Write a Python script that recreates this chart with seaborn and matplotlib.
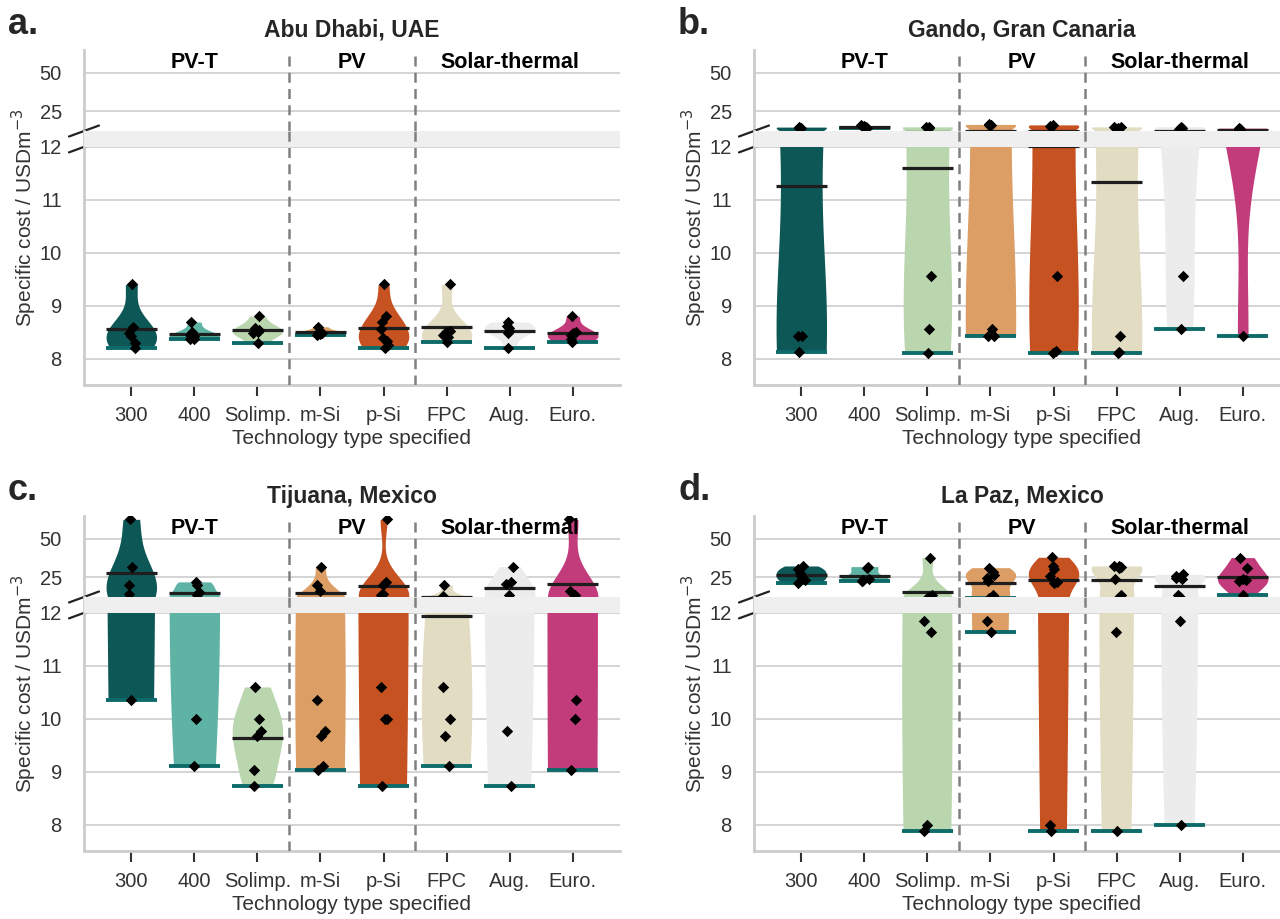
import numpy as np
import pandas as pd
import seaborn as sns
import matplotlib.pyplot as plt

sns.set_style("whitegrid")
sns.set_context("notebook")
plt.rcParams['font.family'] = ['Liberation Sans', 'DejaVu Sans']

# ---------------- data ----------------
techs = ["300", "400", "Solimp.", "m-Si", "p-Si", "FPC", "Aug.", "Euro."]
groups = ["PV-T", "PV", "Solar-thermal"]
group_members = [["300", "400", "Solimp."], ["m-Si", "p-Si"], ["FPC", "Aug.", "Euro."]]
tech_colors = ["#0d5857", "#5fb3a4", "#bad6ae", "#dc9e65", "#c55220",
               "#e2dcc3", "#ececec", "#c23b7b"]

abu_dhabi = [
    [9.40, 8.60, 8.48, 8.42, 8.30, 8.19],
    [8.69, 8.50, 8.45, 8.42, 8.37, 8.36],
    [8.80, 8.58, 8.53, 8.50, 8.48, 8.30],
    [8.60, 8.52, 8.50, 8.48, 8.46, 8.44],
    [9.40, 8.81, 8.70, 8.56, 8.39, 8.33, 8.26, 8.19],
    [9.40, 8.52, 8.50, 8.45, 8.40, 8.31],
    [8.69, 8.62, 8.58, 8.52, 8.48, 8.20],
    [8.80, 8.50, 8.48, 8.45, 8.36, 8.31],
]
gando = [
    [14.56, 14.2, 13.9, 8.42, 8.42, 8.12],
    [15.6, 15.0, 14.7, 14.5, 14.2, 13.8],
    [14.68, 14.5, 14.2, 9.56, 8.55, 8.11],
    [16.3, 16.0, 15.6, 8.55, 8.42, 8.42],
    [16.0, 15.5, 14.8, 9.56, 8.14, 8.11],
    [14.68, 14.5, 14.2, 8.42, 8.13, 8.11],
    [14.89, 14.2, 13.6, 13.0, 9.56, 8.55],
    [13.88, 13.5, 13.3, 13.1, 12.8, 8.42],
]
tijuana = [
    [62.8, 31.9, 19.7, 13.9, 10.36],
    [21.9, 20.1, 15.0, 13.2, 10.0, 9.1],
    [10.60, 9.99, 9.76, 9.68, 9.04, 8.73],
    [31.9, 20.1, 16.2, 10.36, 9.76, 9.67, 9.11, 9.04],
    [62.8, 21.9, 19.7, 13.9, 13.4, 10.6, 10.0, 9.99, 8.73],
    [19.7, 12.6, 10.6, 10.0, 9.68, 9.1],
    [31.9, 22.0, 20.5, 13.4, 9.76, 8.73],
    [62.8, 16.2, 13.3, 10.36, 9.99, 9.04],
]
la_paz = [
    [32.3, 30.0, 27.8, 25.5, 23.2, 21.2],
    [31.9, 31.2, 24.0, 22.9, 22.3, 22.2],
    [37.8, 13.5, 11.84, 11.64, 8.0, 7.87],
    [31.2, 28.5, 26.5, 24.5, 22.3, 13.5, 11.84, 11.64],
    [38.0, 32.3, 30.5, 25.7, 22.0, 21.0, 8.0, 7.87],
    [32.3, 32.0, 31.6, 31.2, 23.5, 13.1, 11.64, 7.88],
    [26.8, 25.5, 24.6, 23.5, 13.1, 11.84, 8.0],
    [37.8, 31.2, 24.0, 22.8, 22.3, 13.5],
]

titles = ["Abu Dhabi, UAE", "Gando, Gran Canaria", "Tijuana, Mexico", "La Paz, Mexico"]
letters = ["a.", "b.", "c.", "d."]
panels = [abu_dhabi, gando, tijuana, la_paz]

MIN_COLOR = "#0e6b6a"
BAND = "#efefef"
W, H = 1280, 919

np.random.seed(3)
fig = plt.figure(figsize=(12.8, 9.19), dpi=100)


def to_frame(values):
    rows = [(t, v) for t, vals in zip(techs, values) for v in vals]
    return pd.DataFrame(rows, columns=["tech", "cost"])


def draw_panel(values, title, letter, x0, y0):
    # x0, y0: pixel position of the left spine / top of the top axes
    aw, top_h, bot_h = 536, 81, 254
    ax_top = fig.add_axes([x0 / W, 1 - (y0 + top_h) / H, aw / W, top_h / H])
    ax_bot = fig.add_axes([x0 / W, 1 - (y0 + top_h + bot_h) / H, aw / W, bot_h / H])
    df = to_frame(values)
    stats = df.groupby("tech")["cost"].agg(["min", "mean"]).reindex(techs)
    pos = np.arange(len(techs))

    for ax, (lo, hi) in ((ax_top, (11.5, 65)), (ax_bot, (7.5, 12.3))):
        sns.violinplot(data=df, x="tech", y="cost", hue="tech", order=techs,
                       hue_order=techs, palette=tech_colors, cut=0, inner=None,
                       linewidth=0, density_norm="width", saturation=1,
                       legend=False, ax=ax)
        for col, colour, lw, z in (("min", MIN_COLOR, 2.8, 4), ("mean", "#1e1e1e", 2.3, 5)):
            keep = stats[col].between(lo, hi).to_numpy()
            ax.hlines(stats[col][keep], pos[keep] - 0.4, pos[keep] + 0.4,
                      color=colour, lw=lw, zorder=z)
        shown = df[df["cost"].between(lo, hi)]
        sns.stripplot(data=shown, x="tech", y="cost", order=techs, color="black",
                      marker="D", size=5.8, jitter=0.07, linewidth=0, zorder=6, ax=ax)
        for xv in (2.5, 4.5):
            ax.axvline(xv, color="#808080", lw=1.8, ls=(0, (4, 2.5)), zorder=12)
        ax.set_xlim(-0.75, 7.75)
        ax.grid(axis="x", visible=False)
        ax.grid(axis="y", color="#d4d4d4", lw=1.4)
        ax.set_xlabel("")
        ax.set_ylabel("")
        for s in ax.spines.values():
            s.set_color("#cccccc")
            s.set_linewidth(2)
        ax.spines["top"].set_visible(False)
        ax.spines["right"].set_visible(False)
        ax.tick_params(axis="y", labelsize=14.5, colors="#333333", length=0, pad=16)

    ax_top.set_ylim(12, 65)
    ax_top.set_yticks([25, 50])
    ax_top.spines["bottom"].set_visible(False)
    ax_top.tick_params(axis="x", bottom=False, labelbottom=False)

    ax_bot.set_ylim(7.5, 12.3)
    ax_bot.set_yticks([8, 9, 10, 11, 12])
    ax_bot.axhspan(12, 12.3, color=BAND, lw=0, zorder=10)
    ax_bot.tick_params(axis="x", bottom=True, length=8, width=1.5, color="#333333",
                       labelsize=14.5, labelcolor="#333333", pad=7)
    ax_bot.set_xlabel("Technology type specified", fontsize=15, color="#333333", labelpad=3)

    # broken axis marks
    dx, dy = 15 / aw, 5.5 / bot_h
    yb = 4.5 / 4.8
    for yc in (1.0, yb):
        ax_bot.plot([-dx, dx], [yc - dy, yc + dy], transform=ax_bot.transAxes,
                    color="#222222", lw=1.6, clip_on=False, zorder=2)

    # group labels
    for name, members in zip(groups, group_members):
        xc = np.mean([techs.index(m) for m in members])
        ax_top.text(xc, 0.84, name, transform=ax_top.get_xaxis_transform(),
                    ha="center", va="center", fontsize=15.5, fontweight="bold",
                    color="black", zorder=15)

    fig.text((x0 + aw / 2) / W, 1 - (y0 - 20) / H, title, ha="center", va="center",
             fontsize=16.5, fontweight="bold", color="#262626")
    fig.text((x0 - 76) / W, 1 - (y0 - 25) / H, letter, ha="left", va="center",
             fontsize=26, fontweight="bold", color="#262626")
    fig.text((x0 - 60) / W, 1 - (y0 + 168) / H, "Specific cost / USDm$^{-3}$",
             rotation=90, ha="center", va="center", fontsize=15, color="#333333")


origins = [(84, 50), (754, 50), (84, 516), (754, 516)]
for values, title, letter, (x0, y0) in zip(panels, titles, letters, origins):
    draw_panel(values, title, letter, x0, y0)

fig.savefig("out.png", dpi=100)
